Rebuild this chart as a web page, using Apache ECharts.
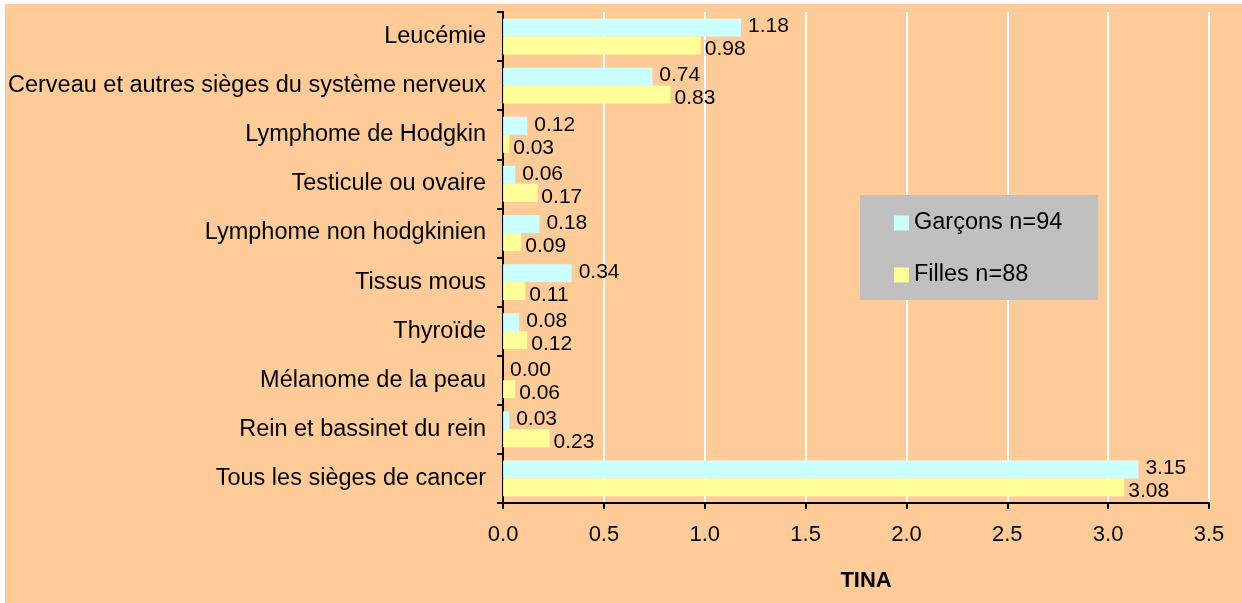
<!DOCTYPE html>
<html>
<head>
<meta charset="utf-8">
<script src="https://cdn.jsdelivr.net/npm/echarts@6/dist/echarts.min.js"></script>
<style>
  html, body { margin: 0; padding: 0; background: #ffffff; }
  #chart { position: absolute; left: 5px; top: 4px; width: 1237px; height: 599px; background: #FFCC99; }
</style>
</head>
<body>
<div id="chart"></div>
<script>
// categories, top to bottom
const categories = [
  'Leucémie',
  'Cerveau et autres sièges du système nerveux',
  'Lymphome de Hodgkin',
  'Testicule ou ovaire',
  'Lymphome non hodgkinien',
  'Tissus mous',
  'Thyroïde',
  'Mélanome de la peau',
  'Rein et bassinet du rein',
  'Tous les sièges de cancer'
]
const garcons = [1.18, 0.74, 0.12, 0.06, 0.18, 0.34, 0.08, 0.00, 0.03, 3.15]
const filles = [0.98, 0.83, 0.03, 0.17, 0.09, 0.11, 0.12, 0.06, 0.23, 3.08]
const seriesNames = ['Garçons n=94', 'Filles n=88']

const font = 'Liberation Sans, Arial, sans-serif'
const chart = echarts.init(document.getElementById('chart'))

chart.setOption({
  animation: false,
  textStyle: { fontFamily: font },
  grid: { left: 498, right: 33, top: 8, bottom: 100 },
  legend: {
    data: seriesNames,
    orient: 'vertical',
    left: 855,
    top: 191,
    backgroundColor: '#C0C0C0',
    padding: [16, 36, 13, 34],
    itemGap: 28,
    itemWidth: 15,
    itemHeight: 15,
    icon: 'rect',
    textStyle: { fontFamily: font, fontSize: 23.5, color: '#000' }
  },
  xAxis: {
    type: 'value',
    min: 0,
    max: 3.5,
    interval: 0.5,
    name: 'TINA',
    nameLocation: 'middle',
    nameGap: 67,
    nameTextStyle: { fontFamily: font, fontSize: 22, fontWeight: 'bold', color: '#000', padding: [0, 0, 0, 20] },
    axisLine: { show: true, lineStyle: { color: '#000', width: 2 } },
    axisTick: { show: true, length: 6, lineStyle: { color: '#000', width: 2 } },
    axisLabel: { margin: 21, fontSize: 22, color: '#000', formatter: v => v.toFixed(1) },
    splitLine: { show: true, lineStyle: { color: '#ffffff', width: 2 } }
  },
  yAxis: {
    type: 'category',
    data: categories,
    inverse: true,
    axisLine: { show: true, lineStyle: { color: '#000', width: 2 } },
    axisTick: { show: true, length: 6, lineStyle: { color: '#000', width: 2 } },
    axisLabel: { margin: 17, fontSize: 23.5, color: '#000' },
    splitLine: { show: false }
  },
  series: [
    {
      name: seriesNames[0],
      type: 'bar',
      data: garcons,
      barGap: '0%',
      barCategoryGap: '27%',
      itemStyle: { color: '#CCFFFF' },
      label: {
        show: true,
        position: 'right',
        distance: 7,
        offset: [0, -1],
        fontSize: 21,
        color: '#000',
        formatter: p => p.value.toFixed(2)
      }
    },
    {
      name: seriesNames[1],
      type: 'bar',
      data: filles,
      itemStyle: { color: '#FFFF99' },
      label: {
        show: true,
        position: 'right',
        distance: 4,
        offset: [0, 4],
        fontSize: 21,
        color: '#000',
        formatter: p => p.value.toFixed(2)
      }
    }
  ]
})
</script>
</body>
</html>
